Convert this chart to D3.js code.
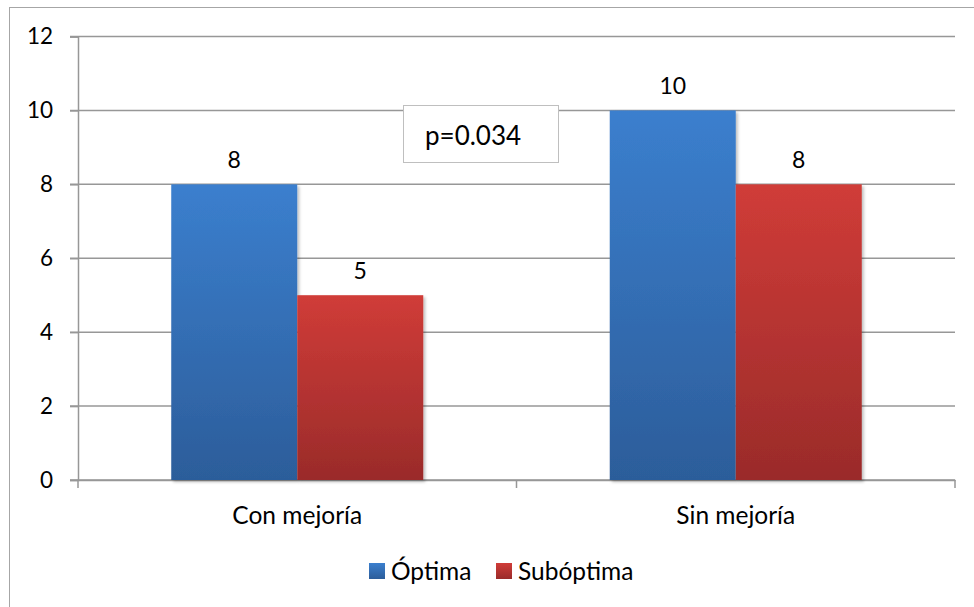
<!DOCTYPE html>
<html>
<head>
<meta charset="utf-8">
<script src="https://cdn.jsdelivr.net/npm/d3@7"></script>
<style>
  html, body { margin: 0; padding: 0; background: #fff; }
  svg text { font-family: Lato, "Open Sans", sans-serif; fill: #000; }
</style>
</head>
<body>
<svg id="chart" width="974" height="607"></svg>
<script>
// Patients by outcome group and treatment quality
const categories = ["Con mejoría", "Sin mejoría"];
const seriesNames = ["Óptima", "Subóptima"];
const optimaValues = [8, 10];
const suboptimaValues = [5, 8];
const yTicks = [0, 2, 4, 6, 8, 10, 12];
const pValueText = "p=0.034";

const svg = d3.select("#chart");
const W = 974, H = 607;
const plot = { left: 78, right: 955, top: 36.5, bottom: 480 };

// Outer chart frame (extends past the right and bottom edges)
svg.append("rect")
  .attr("x", 9.5).attr("y", 7.5)
  .attr("width", W + 10).attr("height", H + 10)
  .attr("fill", "#fff").attr("stroke", "#a6a6a6").attr("stroke-width", 1);

const defs = svg.append("defs");
function grad(id, top, bottom) {
  const g = defs.append("linearGradient").attr("id", id)
    .attr("x1", 0).attr("y1", 0).attr("x2", 0).attr("y2", 1);
  g.append("stop").attr("offset", "0%").attr("stop-color", top);
  g.append("stop").attr("offset", "100%").attr("stop-color", bottom);
}
grad("gBlue", "#3b7fce", "#2c5d9a");
grad("gRed", "#d03c38", "#9a2b2a");
const shadow = defs.append("filter").attr("id", "shadow")
  .attr("x", "-10%").attr("y", "-10%").attr("width", "130%").attr("height", "130%");
shadow.append("feDropShadow").attr("dx", 2).attr("dy", 2).attr("stdDeviation", 1.5)
  .attr("flood-color", "#000").attr("flood-opacity", 0.25);

const y = d3.scaleLinear().domain([0, 12]).range([plot.bottom, plot.top]);
const x0 = d3.scaleBand().domain(categories).range([plot.left, plot.right]).padding(0);
const x1 = d3.scaleBand().domain(seriesNames)
  .range([0, x0.bandwidth()]).paddingInner(0).paddingOuter(0.74);

// Gridlines
svg.append("g").selectAll("line").data(yTicks).join("line")
  .attr("x1", plot.left - 8).attr("x2", plot.right)
  .attr("y1", d => y(d)).attr("y2", d => y(d))
  .attr("stroke", "#979797").attr("stroke-width", 1.5);

// Y axis
const yAxis = svg.append("g").attr("transform", `translate(${plot.left},0)`)
  .call(d3.axisLeft(y).tickValues(yTicks).tickSize(8).tickPadding(17));
yAxis.select(".domain").attr("stroke", "#979797").attr("stroke-width", 1.5);
yAxis.selectAll(".tick line").attr("stroke", "#979797").attr("stroke-width", 1.5);
yAxis.selectAll("text").attr("font-size", 22.5).attr("font-family", "Lato");

// X axis
const xAxis = svg.append("g").attr("transform", `translate(0,${plot.bottom})`)
  .call(d3.axisBottom(x0).tickSize(0).tickPadding(27));
xAxis.select(".domain").attr("stroke", "#979797").attr("stroke-width", 1.5);
xAxis.selectAll("text").attr("font-size", 24.5).attr("font-family", "Lato");
svg.append("g").selectAll("line")
  .data([plot.left, plot.left + x0.bandwidth(), plot.right]).join("line")
  .attr("x1", d => d).attr("x2", d => d)
  .attr("y1", plot.bottom).attr("y2", plot.bottom + 8)
  .attr("stroke", "#979797").attr("stroke-width", 1.5);

// Bars
const rows = categories.map((c, i) => ({
  cat: c,
  vals: [
    { s: seriesNames[0], v: optimaValues[i], fill: "url(#gBlue)" },
    { s: seriesNames[1], v: suboptimaValues[i], fill: "url(#gRed)" }
  ]
}));
const groups = svg.append("g").selectAll("g").data(rows).join("g")
  .attr("transform", d => `translate(${x0(d.cat)},0)`);
groups.selectAll("rect").data(d => d.vals).join("rect")
  .attr("x", d => x1(d.s)).attr("width", x1.bandwidth())
  .attr("y", d => y(d.v)).attr("height", d => y(0) - y(d.v))
  .attr("fill", d => d.fill).attr("filter", "url(#shadow)");
groups.selectAll("text").data(d => d.vals).join("text")
  .attr("x", d => x1(d.s) + x1.bandwidth() / 2)
  .attr("y", d => y(d.v) - 16)
  .attr("text-anchor", "middle").attr("font-size", 23)
  .text(d => d.v);

// p-value annotation box
const pBox = svg.append("g").attr("transform", "translate(403,105)");
pBox.append("rect").attr("x", 0.5).attr("y", 0.5).attr("width", 155).attr("height", 57)
  .attr("fill", "#fff").attr("stroke", "#bfbfbf").attr("stroke-width", 1);
pBox.append("text").attr("x", 22).attr("y", 40).attr("font-size", 26).text(pValueText);

// Legend
const legendItems = [
  { name: seriesNames[0], fill: "url(#gBlue)", x: 369 },
  { name: seriesNames[1], fill: "url(#gRed)", x: 496 }
];
const lg = svg.append("g").selectAll("g").data(legendItems).join("g")
  .attr("transform", d => `translate(${d.x},563)`);
lg.append("rect").attr("width", 16).attr("height", 16).attr("fill", d => d.fill);
lg.append("text").attr("x", 22).attr("y", 17).attr("font-size", 24.5).text(d => d.name);
</script>
</body>
</html>
